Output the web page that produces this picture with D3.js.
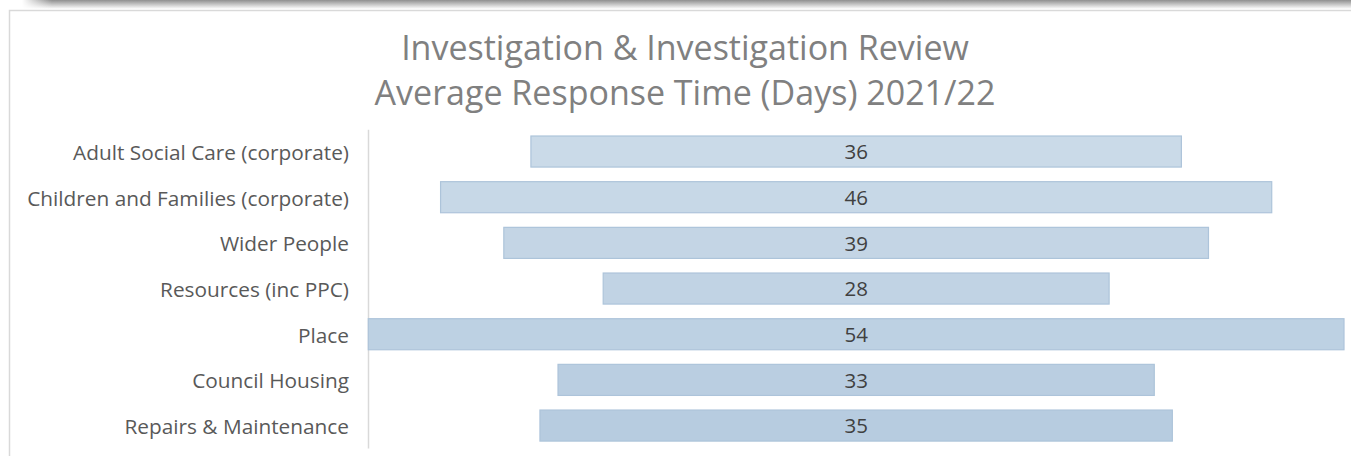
<!DOCTYPE html>
<html>
<head>
<meta charset="utf-8">
<script src="https://cdn.jsdelivr.net/npm/d3@7"></script>
<style>
  body { margin: 0; background: #fff; }
  text { font-family: "Open Sans", "Noto Sans", sans-serif; }
</style>
</head>
<body>
<svg id="chart" width="1351" height="456"></svg>
<script>
// data
var categories = ["Adult Social Care (corporate)", "Children and Families (corporate)", "Wider People",
                  "Resources (inc PPC)", "Place", "Council Housing", "Repairs & Maintenance"];
var days = [36, 46, 39, 28, 54, 33, 35];
var titleLines = ["Investigation & Investigation Review", "Average Response Time (Days) 2021/22"];

var svg = d3.select("#chart");

// top shadow band + frame
var defs = svg.append("defs");
var grad = defs.append("linearGradient").attr("id", "shade").attr("x1", 0).attr("y1", 0).attr("x2", 0).attr("y2", 1);
grad.append("stop").attr("offset", "0%").attr("stop-color", "#8f8f8f");
grad.append("stop").attr("offset", "100%").attr("stop-color", "#ffffff");
var fadeL = defs.append("linearGradient").attr("id", "fadeL");
fadeL.append("stop").attr("offset", "0%").attr("stop-color", "#fff").attr("stop-opacity", 1);
fadeL.append("stop").attr("offset", "100%").attr("stop-color", "#fff").attr("stop-opacity", 0);

svg.append("rect").attr("x", 22).attr("y", 0).attr("width", 1329).attr("height", 9).attr("fill", "url(#shade)");
svg.append("rect").attr("x", 22).attr("y", 0).attr("width", 30).attr("height", 9).attr("fill", "url(#fadeL)");
svg.append("path").attr("d", "M9.5,456 V10.5 H1351").attr("fill", "none").attr("stroke", "#d9d9d9").attr("stroke-width", 1.5);

// title
svg.append("g").selectAll("text")
    .data(titleLines)
  .enter().append("text")
    .attr("x", 685)
    .attr("y", function(d, i) { return 60 + i * 45; })
    .attr("text-anchor", "middle")
    .attr("fill", "#808080")
    .style("font-size", "34px")
    .text(function(d) { return d; });

// scales
var y = d3.scaleBand()
    .domain(categories)
    .range([128.7, 448.4])
    .paddingInner(0.32)
    .paddingOuter(0.16);

var maxV = d3.max(days);
var x = d3.scaleLinear()
    .domain([-maxV / 2, maxV / 2])
    .range([368.3, 1344]);

var shade = d3.scaleLinear()
    .domain([0, categories.length - 1])
    .range(["#cadae8", "#b7cce0"])
    .interpolate(d3.interpolateRgb);

// vertical axis line
svg.append("line")
    .attr("x1", 368.5).attr("x2", 368.5)
    .attr("y1", y.range()[0] + 1).attr("y2", y.range()[1])
    .attr("stroke", "#d9d9d9").attr("stroke-width", 1.5);

// category labels
svg.append("g").selectAll("text")
    .data(categories)
  .enter().append("text")
    .attr("x", 349)
    .attr("y", function(d) { return y(d) + y.bandwidth() / 2; })
    .attr("dy", "0.4em")
    .attr("text-anchor", "end")
    .attr("fill", "#595959")
    .style("font-size", "20.8px")
    .text(function(d) { return d; });

// bars
var bars = svg.append("g").selectAll("g")
    .data(days)
  .enter().append("g");

bars.append("rect")
    .attr("x", function(d) { return x(-d / 2); })
    .attr("y", function(d, i) { return y(categories[i]); })
    .attr("width", function(d) { return x(d / 2) - x(-d / 2); })
    .attr("height", y.bandwidth())
    .attr("fill", function(d, i) { return shade(i); })
    .attr("stroke", "#adc4da")
    .attr("stroke-width", 1.2);

bars.append("text")
    .attr("x", x(0))
    .attr("y", function(d, i) { return y(categories[i]) + y.bandwidth() / 2; })
    .attr("dy", "0.38em")
    .attr("text-anchor", "middle")
    .attr("fill", "#404040")
    .style("font-size", "20.5px")
    .text(function(d) { return d; });
</script>
</body>
</html>
